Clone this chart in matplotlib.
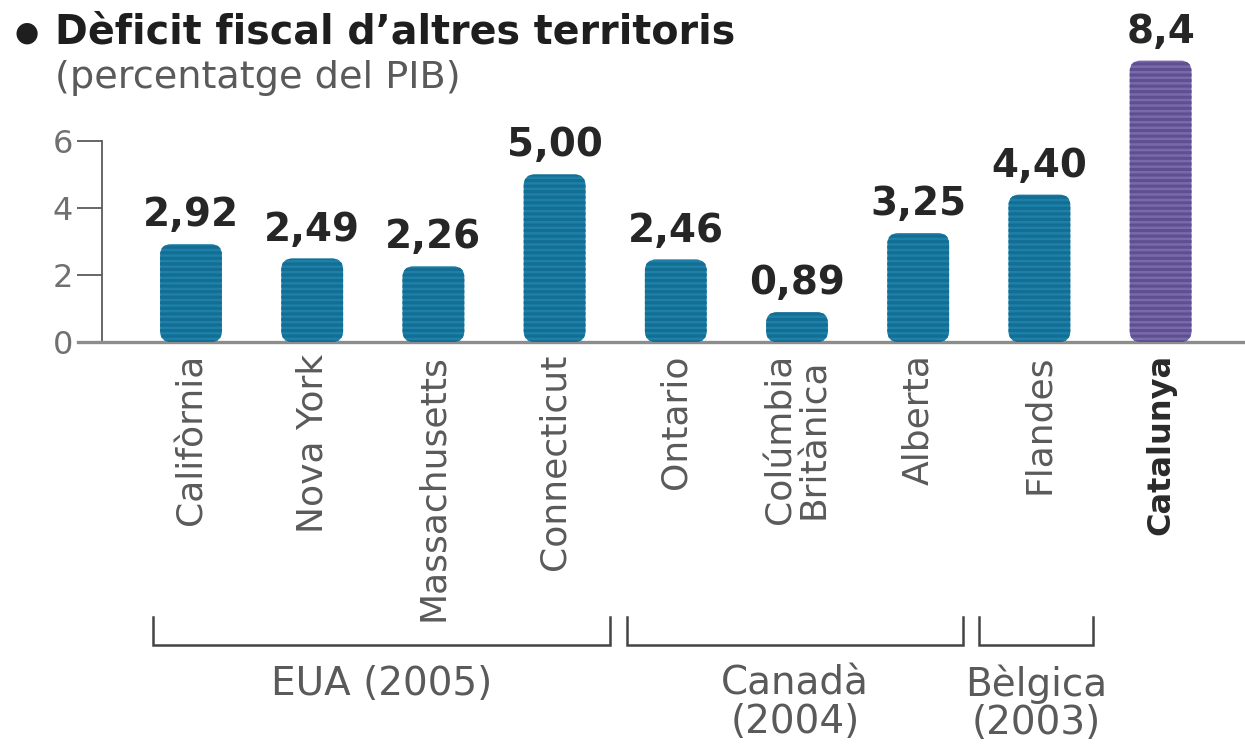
import numpy as np
import matplotlib
matplotlib.use('Agg')
import matplotlib.pyplot as plt
from matplotlib.patches import FancyBboxPatch

plt.rcParams['font.family'] = ['DejaVu Sans']
plt.rcParams['hatch.linewidth'] = 2.2

territories = ['Califòrnia', 'Nova York', 'Massachusetts', 'Connecticut', 'Ontario',
               'Colúmbia\nBritànica', 'Alberta', 'Flandes', 'Catalunya']
deficit = [2.92, 2.49, 2.26, 5.00, 2.46, 0.89, 3.25, 4.40, 8.4]
value_labels = ['2,92', '2,49', '2,26', '5,00', '2,46', '0,89', '3,25', '4,40', '8,4']
groups = ['EUA (2005)', 'Canadà\n(2004)', 'Bèlgica\n(2003)']
group_members = [(0, 3), (4, 6), (7, 7)]
yticks = [0, 2, 4, 6]

# bracket overhang beyond first/last bar of each group (layout only)
bracket_pads = [(0.31, 0.46), (0.40, 0.37), (0.50, 0.44)]

TEAL, TEAL_DARK = '#1c80a8', '#146d93'
PURPLE, PURPLE_DARK = '#7869aa', '#604f90'
GREY = '#5a5a5a'

W, H = 1245, 745
fig = plt.figure(figsize=(W / 100, H / 100), dpi=100)
fig.patch.set_facecolor('white')

# axes placed in pixel terms: baseline at y=342, 6 at y=141, from x=78 to right edge
ax = fig.add_axes([78 / W, (H - 342) / H, (W - 78) / W, 201 / H])
px_x = 121.2
x0 = -(191 - 78) / px_x
ax.set_xlim(x0, x0 + (W - 78) / px_x)
ax.set_ylim(0, 6)
ax.set_facecolor('none')

for s in ['top', 'right']:
    ax.spines[s].set_visible(False)
ax.spines['left'].set_position(('data', -(191 - 102) / px_x))
ax.spines['left'].set_color(GREY)
ax.spines['left'].set_linewidth(1.3)
ax.spines['bottom'].set_color('#8c8c8c')
ax.spines['bottom'].set_linewidth(2.4)
ax.set_yticks(yticks)
ax.set_yticklabels([str(t) for t in yticks])
ax.tick_params(axis='y', direction='out', length=18, width=1.3, color=GREY,
               labelsize=23, labelcolor='#707070', pad=3)
ax.set_xticks([])

x = np.arange(len(territories))
bars = ax.bar(x, deficit, width=0.51)

# aspect of one data unit y vs x in pixels, for rounding the corners
bbox = ax.get_window_extent()
aspect = (6 / bbox.height) / ((ax.get_xlim()[1] - ax.get_xlim()[0]) / bbox.width)

for i, b in enumerate(bars):
    last = i == len(bars) - 1
    fc, hc = (PURPLE, PURPLE_DARK) if last else (TEAL, TEAL_DARK)
    fb = FancyBboxPatch((b.get_x(), b.get_y()), b.get_width(), b.get_height(),
                        boxstyle='round,pad=0,rounding_size=0.09',
                        mutation_aspect=aspect, facecolor=fc, edgecolor=hc,
                        linewidth=0, hatch='---', clip_on=False, zorder=3)
    b.remove()
    ax.add_patch(fb)
    ax.text(b.get_x() + b.get_width() / 2, deficit[i] + 0.3, value_labels[i],
            ha='center', va='bottom', fontsize=28, fontweight='bold',
            color='#262626', clip_on=False)
    ax.text(b.get_x() + b.get_width() / 2, -0.36, territories[i],
            rotation=90, ha='center', va='top', fontsize=23 if last else 26,
            fontweight='bold' if last else 'normal',
            color='#2a2a2a' if last else GREY, linespacing=0.98,
            clip_on=False)

# group brackets
ytop, ybar = -8.20, -9.03
for name, (a, b), (pl, pr) in zip(groups, group_members, bracket_pads):
    left, right = a - pl, b + pr
    ax.plot([left, left, right, right], [ytop, ybar, ybar, ytop],
            color='#444444', lw=1.8, clip_on=False, solid_joinstyle='miter')
    ax.text((left + right) / 2, ybar - 0.6, name, ha='center', va='top',
            fontsize=28, color=GREY, linespacing=1.0, clip_on=False)

fig.text(14 / W, 1 - 33 / H, '\u25CF', fontsize=20, color='#1e1e1e', va='center')
fig.text(55 / W, 1 - 32 / H, 'Dèficit fiscal d\u2019altres territoris',
         fontsize=28.5, fontweight='bold', color='#1e1e1e', va='center')
fig.text(55 / W, 1 - 78 / H, '(percentatge del PIB)', fontsize=27.5,
         color=GREY, va='center')

fig.savefig('out.png', dpi=100, facecolor='white')
